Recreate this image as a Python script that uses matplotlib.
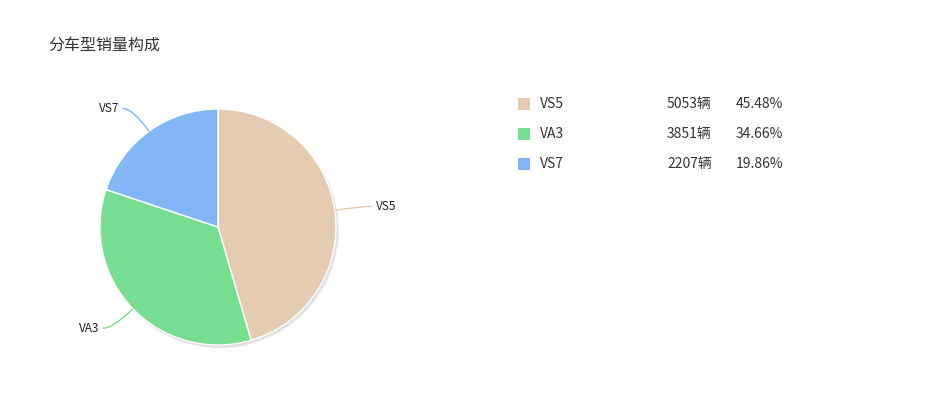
"""
分车型销量构成 — 饼图 + 右侧图例
"""
import numpy as np
import matplotlib
matplotlib.use('Agg')
import matplotlib.pyplot as plt
from matplotlib.patches import Circle, PathPatch, Rectangle
from matplotlib.path import Path

plt.rcParams['font.family'] = ['Noto Sans CJK SC', 'DejaVu Sans']

# данные
models = ['VS5', 'VA3', 'VS7']
sales = [5053, 3851, 2207]
shares = ['45.48%', '34.66%', '19.86%']
colors = ['#E5CBB2', '#77DD90', '#82B6F5']
title = '分车型销量构成'

W, H = 929, 408
fig = plt.figure(figsize=(W / 100, H / 100), dpi=100)
ax = fig.add_axes([0, 0, 1, 1])
ax.set_xlim(0, W)
ax.set_ylim(0, H)
ax.axis('off')

cx, cy, r = 218, H - 227, 118

# мягкая тень
for dx, dy, a in [(2.5, -3, 0.05), (1.5, -2, 0.08)]:
    ax.add_patch(Circle((cx + dx, cy + dy), r + 0.5, color='black', alpha=a, lw=0))

wedges, _ = ax.pie(sales, colors=colors, startangle=90, counterclock=False,
                   center=(cx, cy), radius=r, frame=True,
                   wedgeprops=dict(edgecolor='white', linewidth=1))
ax.set_xlim(0, W)
ax.set_ylim(0, H)
ax.set_aspect('auto')
ax.axis('off')

# подписи с выносками
for w, name, c in zip(wedges, models, colors):
    ang = np.deg2rad((w.theta1 + w.theta2) / 2)
    p0 = (cx + r * np.cos(ang), cy + r * np.sin(ang))
    p1 = (cx + (r + 28) * np.cos(ang), cy + (r + 28) * np.sin(ang))
    side = 1 if np.cos(ang) >= 0 else -1
    p2 = (p1[0] + side * 10, p1[1])
    path = Path([p0, p1, p2], [Path.MOVETO, Path.CURVE3, Path.CURVE3])
    ax.add_patch(PathPatch(path, fc='none', ec=c, lw=1))
    ax.text(p2[0] + side * 3, p2[1], name, fontsize=8.5, color='#222222',
            ha='left' if side > 0 else 'right', va='center')

ax.text(48, H - 45, title, fontsize=11.5, color='#333333', va='center', ha='left')

# легенда
for i, (name, n, s, c) in enumerate(zip(models, sales, shares, colors)):
    y = H - 104 - 30 * i
    ax.add_patch(Rectangle((518, y - 6), 12, 12, color=c, lw=0))
    ax.text(540, y, name, fontsize=10, color='#333333', va='center')
    ax.text(667, y, f'{n}辆', fontsize=10, color='#333333', va='center')
    ax.text(736, y, s, fontsize=10, color='#333333', va='center')

fig.savefig('out.png', dpi=100)
